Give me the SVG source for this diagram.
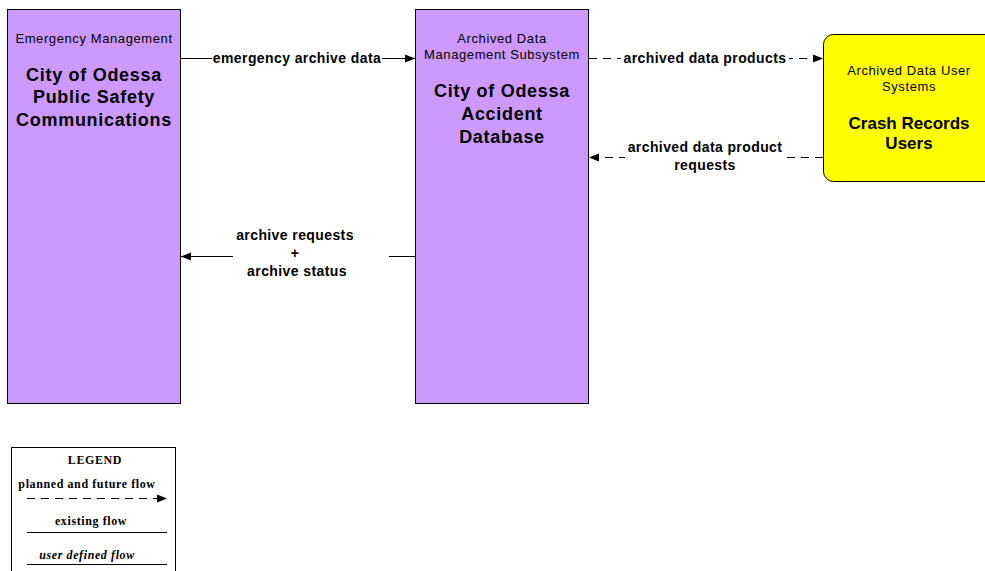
<svg xmlns="http://www.w3.org/2000/svg" width="985" height="571" viewBox="0 0 985 571">
<style>
.box{fill:#CC99FF;stroke:#000;stroke-width:1}
.ext{fill:#FFFF00;stroke:#000;stroke-width:1}
.cls{font-family:"Liberation Sans",Arial,sans-serif;font-size:13px;letter-spacing:0.6px;fill:#000;text-anchor:middle}
.ttl{font-family:"Liberation Sans",Arial,sans-serif;font-size:18px;letter-spacing:0.7px;font-weight:bold;fill:#000;text-anchor:middle}
.ttl2{font-family:"Liberation Sans",Arial,sans-serif;font-size:17px;font-weight:bold;fill:#000;text-anchor:middle}
.lbl{font-family:"Liberation Sans",Arial,sans-serif;font-size:14px;letter-spacing:0.4px;font-weight:bold;fill:#000;text-anchor:middle}
.leg{font-family:"Liberation Serif","Times New Roman",serif;font-size:12px;letter-spacing:0.6px;font-weight:bold;fill:#000;text-anchor:middle}
.solid{stroke:#000;stroke-width:1;fill:none}
.dash{stroke:#000;stroke-width:1;fill:none;stroke-dasharray:8,6}
</style>
<defs>
<marker id="arr" viewBox="0 0 10 10" refX="10" refY="5" markerWidth="10" markerHeight="10" markerUnits="userSpaceOnUse" orient="auto">
<path d="M0,1 L10,5 L0,9 Z" fill="#000"/>
</marker>
</defs>
<rect width="985" height="571" fill="#fff"/>
<g id="node-psc">
<rect class="box" x="7.5" y="9.5" width="173" height="394"/>
<text class="cls" x="94" y="43">Emergency Management</text>
<text class="ttl" x="94" y="81">City of Odessa</text>
<text class="ttl" x="94" y="103">Public Safety</text>
<text class="ttl" x="94" y="126">Communications</text>
</g>
<g id="node-adb">
<rect class="box" x="415.5" y="9.5" width="173" height="394"/>
<text class="cls" x="502" y="43">Archived Data</text>
<text class="cls" x="502" y="59">Management Subsystem</text>
<text class="ttl" x="502" y="97">City of Odessa</text>
<text class="ttl" x="502" y="120">Accident</text>
<text class="ttl" x="502" y="143">Database</text>
</g>
<g id="node-crash">
<rect class="ext" x="823.5" y="34.5" width="175" height="147" rx="10" ry="10"/>
<text class="cls" x="909" y="75">Archived Data User</text>
<text class="cls" x="909" y="91">Systems</text>
<text class="ttl2" x="909" y="129">Crash Records</text>
<text class="ttl2" x="909" y="149">Users</text>
</g>
<g id="connectors">
<line class="solid" x1="181" y1="58.5" x2="415" y2="58.5" marker-end="url(#arr)"/>
<rect x="212" y="50" width="170" height="16" fill="#fff"/>
<text class="lbl" x="297" y="63">emergency archive data</text>
<line class="dash" x1="589" y1="58.5" x2="823" y2="58.5" marker-end="url(#arr)"/>
<rect x="621" y="50" width="168" height="16" fill="#fff"/>
<text class="lbl" x="705" y="63">archived data products</text>
<line class="dash" x1="823" y1="157.5" x2="589" y2="157.5" marker-end="url(#arr)"/>
<rect x="625" y="140" width="160" height="32" fill="#fff"/>
<text class="lbl" x="705" y="152">archived data product</text>
<text class="lbl" x="705" y="170">requests</text>
<line class="solid" x1="415" y1="256.5" x2="181" y2="256.5" marker-end="url(#arr)"/>
<rect x="233" y="228" width="156" height="52" fill="#fff"/>
<text class="lbl" x="295" y="240">archive requests</text>
<text class="lbl" x="295" y="258">+</text>
<text class="lbl" x="297" y="276">archive status</text>
</g>
<g id="legend">
<rect x="11.5" y="447.5" width="164" height="130" fill="#fff" stroke="#000" stroke-width="1"/>
<text class="leg" x="95" y="464">LEGEND</text>
<text class="leg" x="87" y="488">planned and future flow</text>
<line class="dash" x1="27" y1="498.5" x2="167" y2="498.5" stroke-dasharray="5,4" marker-end="url(#arr)"/>
<text class="leg" x="91" y="525">existing flow</text>
<line class="solid" x1="27" y1="532.5" x2="167" y2="532.5"/>
<text class="leg" x="87" y="559" font-style="italic">user defined flow</text>
<line class="solid" x1="27" y1="564.5" x2="167" y2="564.5"/>
</g>
</svg>
